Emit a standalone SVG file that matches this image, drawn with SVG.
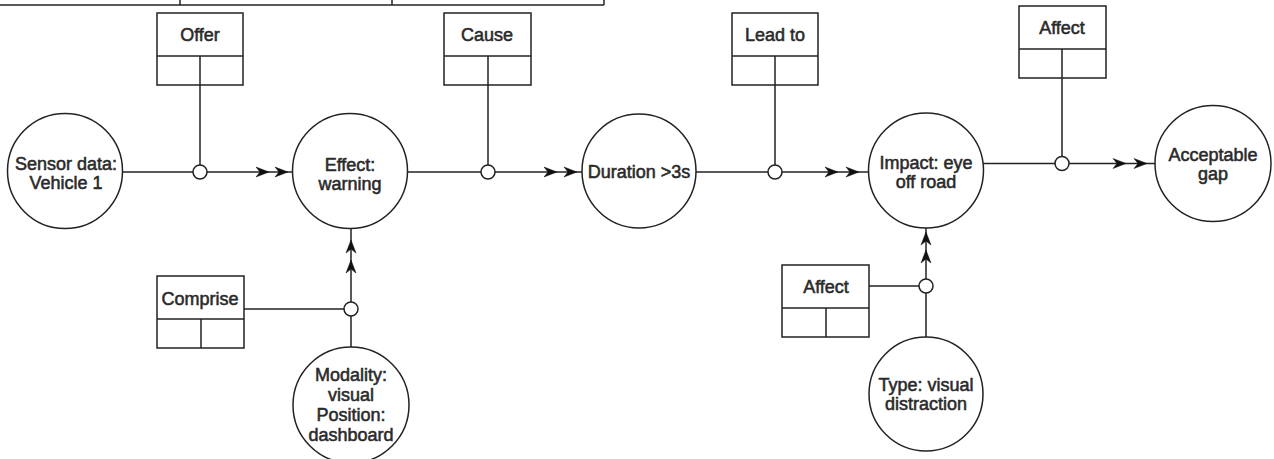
<svg xmlns="http://www.w3.org/2000/svg" xmlns:xlink="http://www.w3.org/1999/xlink" width="1274" height="459" viewBox="0 0 1274 459">
<style>
.node circle{fill:#fff;stroke:#222;stroke-width:1.5}
.box rect,.box line{fill:#fff;stroke:#222;stroke-width:1.5}
.lbl{font-family:"Liberation Sans",Arial,sans-serif;font-size:18px;fill:#2a2a2a;text-anchor:middle;stroke:#2a2a2a;stroke-width:0.55}
.conn line{stroke:#222;stroke-width:1.5;fill:none}
.jn{fill:#fff;stroke:#222;stroke-width:1.5}
.ah{fill:#111;stroke:#111;stroke-width:0.5}
</style>
<defs>
<path id="ah" d="M0,0 L-13,-5 L-9,0 L-13,5 Z"/>
</defs>
<rect width="1274" height="459" fill="#fff"/>
<g id="table-fragment" stroke="#222" stroke-width="1.5" fill="none">
<line x1="0" y1="5" x2="604" y2="5"/>
<line x1="180" y1="0" x2="180" y2="5"/>
<line x1="392" y1="0" x2="392" y2="5"/>
<line x1="604" y1="0" x2="604" y2="5"/>
</g>
<g class="conn" id="connectors">
<line x1="122" y1="172" x2="293" y2="172"/>
<line x1="200" y1="56" x2="200" y2="172"/>
<line x1="407" y1="172" x2="582" y2="172"/>
<line x1="488" y1="56" x2="488" y2="172"/>
<line x1="696" y1="172" x2="869" y2="172"/>
<line x1="775" y1="56" x2="775" y2="172"/>
<line x1="983" y1="163.5" x2="1155" y2="163.5"/>
<line x1="1062" y1="49" x2="1062" y2="163.5"/>
<line x1="351" y1="229" x2="351" y2="347"/>
<line x1="244" y1="309" x2="351" y2="309"/>
<line x1="926" y1="228" x2="926" y2="337"/>
<line x1="869" y1="286" x2="926" y2="286"/>
<g class="ah">
<use xlink:href="#ah" transform="translate(269,172)"/>
<use xlink:href="#ah" transform="translate(288,172)"/>
<use xlink:href="#ah" transform="translate(557,172)"/>
<use xlink:href="#ah" transform="translate(577,172)"/>
<use xlink:href="#ah" transform="translate(838,172)"/>
<use xlink:href="#ah" transform="translate(859,172)"/>
<use xlink:href="#ah" transform="translate(1126,163.5)"/>
<use xlink:href="#ah" transform="translate(1147,163.5)"/>
<use xlink:href="#ah" transform="translate(351,240) rotate(-90)"/>
<use xlink:href="#ah" transform="translate(351,260) rotate(-90)"/>
<use xlink:href="#ah" transform="translate(926,232) rotate(-90)"/>
<use xlink:href="#ah" transform="translate(926,250) rotate(-90)"/>
</g>
<circle class="jn" cx="200" cy="172" r="7"/>
<circle class="jn" cx="488" cy="172" r="7"/>
<circle class="jn" cx="775" cy="172" r="7"/>
<circle class="jn" cx="1062" cy="163.5" r="7"/>
<circle class="jn" cx="351" cy="309" r="7"/>
<circle class="jn" cx="926" cy="286" r="7"/>
</g>
<g class="node" id="sensor">
<circle cx="65" cy="171" r="57.5"/>
<text class="lbl" x="66" y="170">Sensor data:</text>
<text class="lbl" x="66" y="189">Vehicle 1</text>
</g>
<g class="node" id="effect">
<circle cx="350" cy="171" r="57.5"/>
<text class="lbl" x="350" y="171">Effect:</text>
<text class="lbl" x="350" y="190">warning</text>
</g>
<g class="node" id="duration">
<circle cx="639" cy="171" r="57"/>
<text class="lbl" x="639" y="178">Duration &gt;3s</text>
</g>
<g class="node" id="impact">
<circle cx="926" cy="170.5" r="57.5"/>
<text class="lbl" x="926" y="169">Impact: eye</text>
<text class="lbl" x="926" y="188">off road</text>
</g>
<g class="node" id="acceptable">
<circle cx="1213" cy="163.5" r="58"/>
<text class="lbl" x="1213" y="161">Acceptable</text>
<text class="lbl" x="1213" y="180">gap</text>
</g>
<g class="node" id="modality">
<circle cx="351" cy="405" r="58"/>
<text class="lbl" x="351" y="381">Modality:</text>
<text class="lbl" x="351" y="401">visual</text>
<text class="lbl" x="351" y="421">Position:</text>
<text class="lbl" x="351" y="441">dashboard</text>
</g>
<g class="node" id="type">
<circle cx="926" cy="394" r="57"/>
<text class="lbl" x="926" y="391">Type: visual</text>
<text class="lbl" x="926" y="410">distraction</text>
</g>
<g class="box" id="offer">
<rect x="157" y="13" width="86" height="72"/>
<line x1="157" y1="56" x2="243" y2="56"/>
<line x1="200" y1="56" x2="200" y2="85"/>
<text class="lbl" x="200" y="41">Offer</text>
</g>
<g class="box" id="cause">
<rect x="444" y="13" width="87" height="72"/>
<line x1="444" y1="56" x2="531" y2="56"/>
<line x1="488" y1="56" x2="488" y2="85"/>
<text class="lbl" x="487" y="41">Cause</text>
</g>
<g class="box" id="leadto">
<rect x="732" y="13" width="86" height="72"/>
<line x1="732" y1="56" x2="818" y2="56"/>
<line x1="775" y1="56" x2="775" y2="85"/>
<text class="lbl" x="775" y="41">Lead to</text>
</g>
<g class="box" id="affect-top">
<rect x="1019" y="6" width="87" height="72"/>
<line x1="1019" y1="49" x2="1106" y2="49"/>
<line x1="1062" y1="49" x2="1062" y2="78"/>
<text class="lbl" x="1062" y="34">Affect</text>
</g>
<g class="box" id="comprise">
<rect x="157" y="276" width="87" height="72"/>
<line x1="157" y1="319" x2="244" y2="319"/>
<line x1="201" y1="319" x2="201" y2="348"/>
<text class="lbl" x="200" y="305">Comprise</text>
</g>
<g class="box" id="affect-bottom">
<rect x="782" y="265" width="87" height="72"/>
<line x1="782" y1="308" x2="869" y2="308"/>
<line x1="826" y1="308" x2="826" y2="337"/>
<text class="lbl" x="826" y="293">Affect</text>
</g>
</svg>
